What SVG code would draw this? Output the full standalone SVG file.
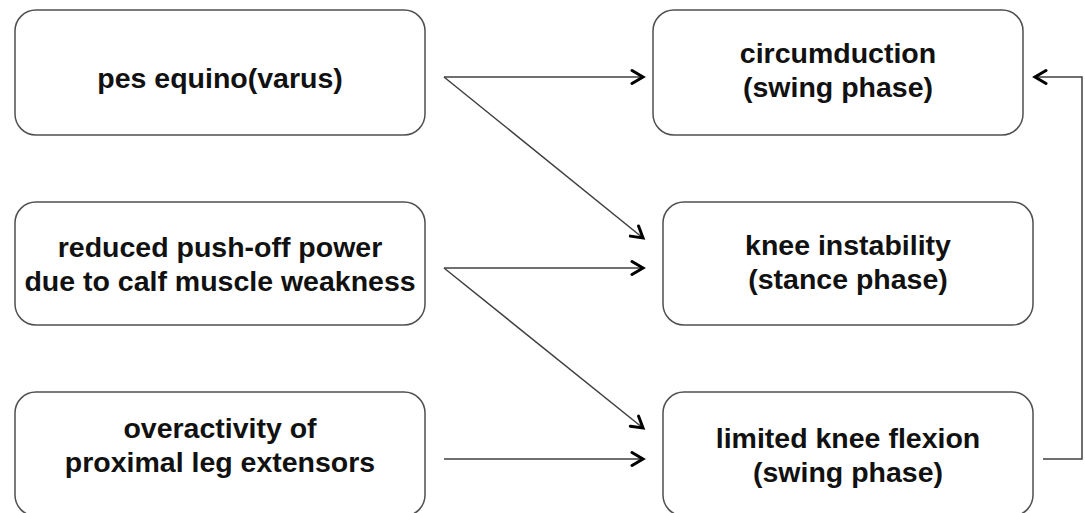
<svg xmlns="http://www.w3.org/2000/svg" width="1085" height="513" viewBox="0 0 1085 513">
<defs>
<style>
.box{fill:#fff;stroke:#505050;stroke-width:1.5}
.t{font-family:"Liberation Sans",Arial,sans-serif;font-weight:bold;font-size:28.5px;fill:#111;text-anchor:middle}
.c{fill:none;stroke:#404040;stroke-width:1.5}
</style>
<marker id="ah" markerUnits="userSpaceOnUse" markerWidth="16" markerHeight="18" refX="13" refY="8" orient="auto" viewBox="0 0 16 16">
<path d="M2,1.5 L13,8 L2,14.5" fill="none" stroke="#000" stroke-width="3" stroke-linecap="round" stroke-linejoin="miter"/>
</marker>
</defs>
<rect width="1085" height="513" fill="#fff"/>
<g id="n1"><rect class="box" x="15" y="10" width="410" height="125" rx="21"/><text class="t" x="220" y="88">pes equino(varus)</text></g>
<g id="n2"><rect class="box" x="15" y="202" width="410" height="123" rx="21"/><text class="t" x="220" y="257">reduced push-off power<tspan x="220" dy="34">due to calf muscle weakness</tspan></text></g>
<g id="n3"><rect class="box" x="15" y="392" width="410" height="124" rx="21"/><text class="t" x="220" y="438">overactivity of<tspan x="220" dy="34">proximal leg extensors</tspan></text></g>
<g id="n4"><rect class="box" x="653" y="10" width="370" height="125" rx="21"/><text class="t" x="838" y="63">circumduction<tspan x="838" dy="34">(swing phase)</tspan></text></g>
<g id="n5"><rect class="box" x="663" y="202" width="370" height="123" rx="21"/><text class="t" x="848" y="255">knee instability<tspan x="848" dy="34">(stance phase)</tspan></text></g>
<g id="n6"><rect class="box" x="663" y="392" width="370" height="124" rx="21"/><text class="t" x="848" y="448">limited knee flexion<tspan x="848" dy="34">(swing phase)</tspan></text></g>
<g id="connectors">
<path class="c" d="M444,77 L643,77" marker-end="url(#ah)"/>
<path class="c" d="M444,77 L643,238" marker-end="url(#ah)"/>
<path class="c" d="M444,268 L643,268" marker-end="url(#ah)"/>
<path class="c" d="M444,268 L643,428" marker-end="url(#ah)"/>
<path class="c" d="M444,459 L643,459" marker-end="url(#ah)"/>
<path class="c" d="M1043,459 L1082,459 L1082,77 L1035,77" marker-end="url(#ah)"/>
</g>
</svg>
